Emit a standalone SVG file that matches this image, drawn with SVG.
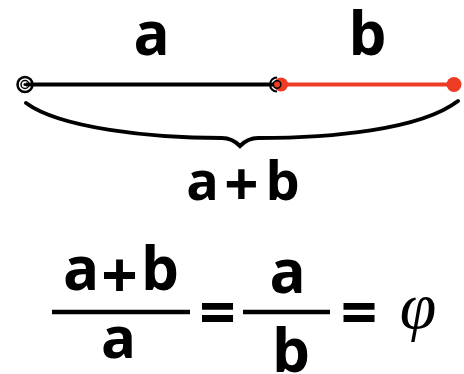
<svg xmlns="http://www.w3.org/2000/svg" width="464" height="374" viewBox="0 0 464 374">
<style>
.t{font-family:"Open Sans","Noto Sans","Liberation Sans",sans-serif;font-weight:bold;fill:#000;text-anchor:middle}
.blk{stroke:#000;fill:none}
.red{stroke:#ee3b24;fill:none}
</style>
<rect width="464" height="374" fill="#fff"/>
<g id="connectors">
<line id="seg-a" class="blk" x1="26" y1="84.5" x2="278" y2="84.5" stroke-width="4"/>
<line id="seg-b" class="red" x1="280" y1="84.5" x2="455" y2="84.5" stroke-width="4"/>
<path id="brace" class="blk" stroke-width="4" stroke-linecap="round" d="M26,103 C60,128 150,138 222,138 Q232,138 240,146 Q248,138 258,138 C330,138 420,130 458,101"/>
</g>
<g id="point-left">
<circle cx="25" cy="84.5" r="7.5" class="blk" stroke-width="2.5"/>
<circle cx="25" cy="84.5" r="4" class="blk" stroke-width="1.5"/>
<circle cx="25" cy="84.5" r="1.6" fill="#000"/>
</g>
<g id="point-mid">
<circle cx="281" cy="84.5" r="7" fill="#ee3b24"/>
<circle cx="277" cy="84.5" r="7" class="blk" stroke-width="2" stroke-dasharray="22 22" transform="rotate(90 277 84.5)"/>
<circle cx="277" cy="84.5" r="3.8" class="blk" stroke-width="1.5"/>
</g>
<g id="point-right">
<circle cx="454" cy="84.5" r="7.5" fill="#ee3b24"/>
</g>
<g id="label-a"><text class="t" x="151.5" y="55" font-size="60">a</text></g>
<g id="label-b"><text class="t" x="367.5" y="55" font-size="60">b</text></g>
<g id="label-ab"><text class="t" y="200" font-size="54"><tspan x="202.5">a</tspan><tspan x="241.5" dy="6" font-size="60">+</tspan><tspan x="282.5" dy="-6">b</tspan></text></g>
<g id="formula">
<text class="t" y="290" font-size="60"><tspan x="81">a</tspan><tspan x="119.5" dy="8" font-size="64">+</tspan><tspan x="160" dy="-8">b</tspan></text>
<line class="blk" x1="52" y1="312" x2="190" y2="312" stroke-width="4.5"/>
<text class="t" x="118.5" y="358" font-size="58">a</text>
<text class="t" x="217.5" y="335" font-size="64">=</text>
<text class="t" x="287.5" y="293" font-size="60">a</text>
<line class="blk" x1="243" y1="312" x2="330" y2="312" stroke-width="4.5"/>
<text class="t" x="291" y="372" font-size="60">b</text>
<text class="t" x="359" y="335" font-size="64">=</text>
<text x="418" y="328" font-size="66" font-family="'Liberation Serif',serif" font-style="italic" text-anchor="middle">φ</text>
</g>
</svg>
